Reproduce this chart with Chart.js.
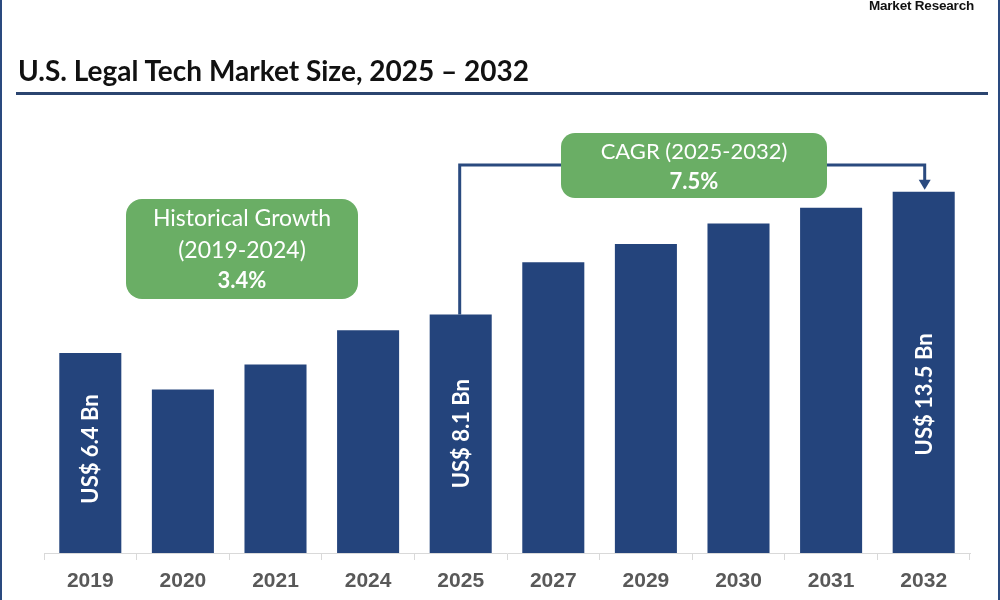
<!DOCTYPE html>
<html>
<head>
<meta charset="utf-8">
<script src="https://cdn.jsdelivr.net/npm/chart.js@4/dist/chart.umd.min.js"></script>
<style>
	html, body { margin: 0; padding: 0; background: #fff; }
	#wrap { position: relative; width: 1000px; height: 600px; overflow: hidden; }
	#edgeL { position: absolute; left: 0; top: 0; width: 2px; height: 600px; background: #2a4a7f; }
	#edgeR { position: absolute; right: 0; top: 0; width: 2px; height: 600px; background: #2a4a7f; }
	#brand { position: absolute; right: 26px; top: -2px; font: bold 13.5px "Liberation Sans", Arial, sans-serif; color: #111; letter-spacing: -0.2px; }
	#title { position: absolute; left: 18px; top: 53px; font: bold 28px Lato, sans-serif; color: #111; }
	#rule { position: absolute; left: 16px; top: 92px; width: 972px; height: 3px; background: #2b4570; }
</style>
</head>
<body>
<div id="wrap">
	<canvas id="chart" width="1000" height="600"></canvas>
	<div id="edgeL"></div>
	<div id="edgeR"></div>
	<div id="brand">Market Research</div>
	<div id="title">U.S. Legal Tech Market Size, 2025 – 2032</div>
	<div id="rule"></div>
</div>
<script>
const years = ['2019', '2020', '2021', '2024', '2025', '2027', '2029', '2030', '2031', '2032'];
const marketSize = [6.4, 4.8, 5.9, 7.4, 8.1, 10.4, 11.2, 12.1, 12.8, 13.5];
const barLabels = ['US$ 6.4 Bn', '', '', '', 'US$ 8.1 Bn', '', '', '', '', 'US$ 13.5 Bn'];
const histText = ['Historical Growth', '(2019-2024)', '3.4%'];
const cagrText = ['CAGR (2025-2032)', '7.5%'];

const yMin = -2.4;
const yMax = 17.1;
const navy = '#24447c';
const green = '#6aae65';

function roundBox(ctx, x, y, w, h, r) {
	ctx.beginPath();
	ctx.moveTo(x + r, y);
	ctx.arcTo(x + w, y, x + w, y + h, r);
	ctx.arcTo(x + w, y + h, x, y + h, r);
	ctx.arcTo(x, y + h, x, y, r);
	ctx.arcTo(x, y, x + w, y, r);
	ctx.closePath();
}

const annotations = {
	id: 'annotations',
	afterDatasetsDraw(chart) {
		const ctx = chart.ctx;
		const meta = chart.getDatasetMeta(0);
		const yScale = chart.scales.y;

		// labels inside bars
		ctx.save();
		ctx.fillStyle = '#fff';
		ctx.font = 'bold 22px Lato, sans-serif';
		ctx.textAlign = 'center';
		ctx.textBaseline = 'middle';
		meta.data.forEach((bar, i) => {
			if (!barLabels[i]) return;
			const mid = (bar.y + bar.base) / 2 + (i === 9 ? 22 : 0) - (i === 0 ? 4 : 0);
			ctx.save();
			ctx.translate(bar.x, mid);
			ctx.rotate(-Math.PI / 2);
			ctx.fillText(barLabels[i], 0, 1);
			ctx.restore();
		});
		ctx.restore();

		// CAGR connector
		const b25 = meta.data[4];
		const b32 = meta.data[9];
		const lineY = 165;
		ctx.save();
		ctx.strokeStyle = '#2a4a7f';
		ctx.lineWidth = 3;
		ctx.beginPath();
		ctx.moveTo(b25.x - 1, yScale.getPixelForValue(marketSize[4]));
		ctx.lineTo(b25.x - 1, lineY);
		ctx.lineTo(b32.x + 1, lineY);
		ctx.lineTo(b32.x + 1, b32.y - 10);
		ctx.stroke();
		ctx.fillStyle = '#2a4a7f';
		ctx.beginPath();
		ctx.moveTo(b32.x + 1 - 6, b32.y - 12);
		ctx.lineTo(b32.x + 1 + 6, b32.y - 12);
		ctx.lineTo(b32.x + 1, b32.y - 2);
		ctx.closePath();
		ctx.fill();
		ctx.restore();

		// green boxes
		ctx.save();
		ctx.fillStyle = green;
		roundBox(ctx, 561, 133, 266, 65, 14);
		ctx.fill();
		roundBox(ctx, 126, 199, 232, 100, 16);
		ctx.fill();

		ctx.fillStyle = '#fff';
		ctx.textAlign = 'center';
		ctx.textBaseline = 'middle';
		ctx.font = '22px Lato, sans-serif';
		ctx.fillText(cagrText[0], 694, 152);
		ctx.font = 'bold 22px Lato, sans-serif';
		ctx.fillText(cagrText[1], 694, 182);

		ctx.font = '23px Lato, sans-serif';
		ctx.fillText(histText[0], 242, 219);
		ctx.fillText(histText[1], 242, 251);
		ctx.font = 'bold 22px Lato, sans-serif';
		ctx.fillText(histText[2], 242, 281);
		ctx.restore();
	}
};

const data = {
	labels: years,
	datasets: [{
		label: 'Market size (US$ Bn)',
		data: marketSize,
		base: yMin,
		backgroundColor: navy,
		borderWidth: 0,
		barPercentage: 0.67,
		categoryPercentage: 1
	}]
};

const config = {
	type: 'bar',
	data: data,
	options: {
		responsive: false,
		animation: false,
		layout: {
			padding: { left: 44, right: 30, top: 110, bottom: 0 }
		},
		scales: {
			x: {
				afterFit: (axis) => { axis.height = 47; },
				border: { display: true, color: '#d9d9d9', width: 1 },
				grid: {
					offset: true,
					drawOnChartArea: false,
					drawTicks: true,
					tickLength: 7,
					color: '#d9d9d9'
				},
				ticks: {
					color: '#595959',
					padding: 9,
					font: { family: 'Liberation Sans', size: 21, weight: 'bold' }
				}
			},
			y: {
				display: false,
				min: yMin,
				max: yMax
			}
		},
		plugins: {
			legend: { display: false },
			title: { display: false },
			tooltip: { enabled: false }
		}
	},
	plugins: [annotations]
};

const myChart = new Chart(document.getElementById('chart'), config);
</script>
</body>
</html>
